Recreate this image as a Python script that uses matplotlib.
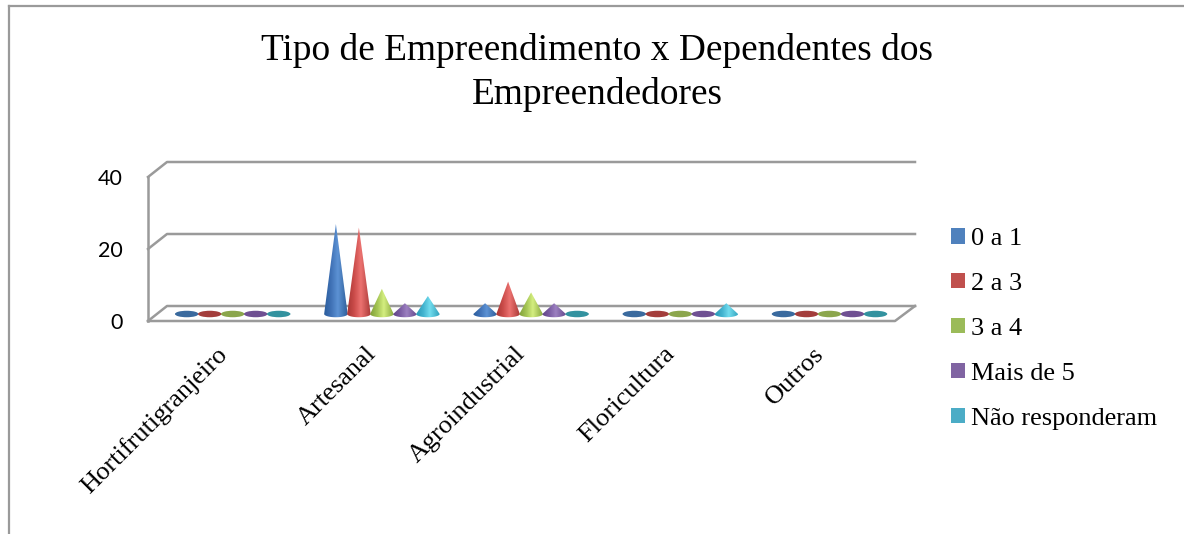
import numpy as np
import matplotlib
matplotlib.use("Agg")
import matplotlib.pyplot as plt
from matplotlib.colors import LinearSegmentedColormap
from matplotlib.lines import Line2D
from matplotlib.patches import Patch, PathPatch, Ellipse
from matplotlib.path import Path
from matplotlib.transforms import Affine2D

plt.rcParams['font.family'] = ['Liberation Serif', 'DejaVu Serif']

categories = ["Hortifrutigranjeiro", "Artesanal", "Agroindustrial", "Floricultura", "Outros"]
series_names = ["0 a 1", "2 a 3", "3 a 4", "Mais de 5", "Não responderam"]
zero_a_um = [0, 25, 3, 0, 0]
dois_a_tres = [0, 24, 9, 0, 0]
tres_a_quatro = [0, 7, 6, 0, 0]
mais_de_cinco = [0, 3, 3, 0, 0]
nao_responderam = [0, 5, 0, 3, 0]
y_ticks = [0, 20, 40]
series = [zero_a_um, dois_a_tres, tres_a_quatro, mais_de_cinco, nao_responderam]

legend_colors = ["#4f81bd", "#c0504d", "#9bbb59", "#8064a2", "#4bacc6"]
flat_colors = ["#3a6a9e", "#a33d3b", "#8ba64c", "#6f5092", "#33929f"]
# left edge, body, highlight, right edge of the shading across each cone
cone_shades = [("#2a5c9c", "#4072b6", "#5c92d4", "#2f5f9a"),
               ("#a83634", "#cb4c4a", "#ec7270", "#ab3a38"),
               ("#80a038", "#a4c454", "#d4ee80", "#88a83e"),
               ("#604486", "#7a5ca2", "#9c80c0", "#664a8e"),
               ("#2b99b6", "#42b3cf", "#72dcee", "#30a1bc")]

W, H = 1184, 534
PX_X = 149.2    # pixels per category
PX_Y = 3.6      # pixels per unit
X0, Y0 = 232.7, 314.0
BAR_W = 23.5 / PX_X
BASE_H = 6.5 / PX_Y

fig = plt.figure(figsize=(W / 100, H / 100), dpi=100)
ax = fig.add_axes([0, 0, 1, 1])
ax.axis("off")

# top-left pixel coordinates for the frame and the walls
px = Affine2D().scale(1, -1).translate(0, H)


def seg(xs, ys, color="#9a9a9a", lw=1.8):
    ax.add_line(Line2D(xs, ys, transform=px, color=color, lw=lw, solid_capstyle="projecting"))


def draw_cone(cx, value, shades):
    half = BAR_W / 2
    t = np.linspace(np.pi, 2 * np.pi, 40)
    xs = cx + half * np.cos(t)
    ys = BASE_H / 2 * np.sin(t)
    verts = [(cx, value)] + list(zip(xs, ys)) + [(cx, value)]
    codes = [Path.MOVETO] + [Path.LINETO] * (len(verts) - 2) + [Path.CLOSEPOLY]
    shape = PathPatch(Path(verts, codes), fc="none", ec="none", transform=ax.transData)
    ax.add_patch(shape)
    cmap = LinearSegmentedColormap.from_list(
        "cone", [(0, shades[0]), (0.3, shades[1]), (0.58, shades[2]), (1, shades[3])])
    im = ax.imshow(np.linspace(0, 1, 64)[None, :], cmap=cmap, aspect="auto",
                   extent=(cx - half, cx + half, -BASE_H, value), zorder=3)
    im.set_clip_path(shape)


# frame around the chart area
seg([9, 9], [6, H], lw=1.6)
seg([9, W], [6, 6], lw=1.6)

# walls, floor and gridlines
for v in y_ticks:
    seg([148, 167, 915], [321 - PX_Y * v, 306 - PX_Y * v, 306 - PX_Y * v])
seg([148, 148], [321 - PX_Y * y_ticks[-1], 321])
seg([148, 895, 915], [321, 321, 306])

for v in y_ticks:
    ax.text(123, 323 - PX_Y * v, str(v), transform=px, family="Lato",
            fontsize=15.5, ha="right", va="center", color="black")

# cones, with flat discs for the zero values
for s, values in enumerate(series):
    for i, value in enumerate(values):
        cx = i + (s - 2) * 23 / PX_X
        if value == 0:
            ax.add_patch(Ellipse((cx, 0), BAR_W, BASE_H, fc=flat_colors[s], ec="none", zorder=3))
        else:
            draw_cone(cx, value, cone_shades[s])

ax.set_xlim(-X0 / PX_X, (W - X0) / PX_X)
ax.set_ylim((Y0 - H) / PX_Y, Y0 / PX_Y)

for i, name in enumerate(categories):
    ax.text(i - 17 / PX_X, -29 / PX_Y, name, rotation=45, rotation_mode="anchor",
            ha="right", va="top", fontsize=19, color="black")

ax.text(597, 51, "Tipo de Empreendimento x Dependentes dos", transform=px,
        ha="center", va="center", fontsize=26.9, color="black")
ax.text(597, 94, "Empreendedores", transform=px,
        ha="center", va="center", fontsize=26.9, color="black")

handles = [Patch(fc=c, ec="none") for c in legend_colors]
ax.legend(handles, series_names, loc="upper left", bbox_to_anchor=(943 / W, 1 - 220 / H),
          bbox_transform=fig.transFigure, frameon=False, fontsize=18.9,
          handlelength=0.54, handleheight=0.54, handletextpad=0.22, labelspacing=0.87,
          borderpad=0.3, borderaxespad=0)

fig.savefig("out.png", dpi=100, facecolor="white")
